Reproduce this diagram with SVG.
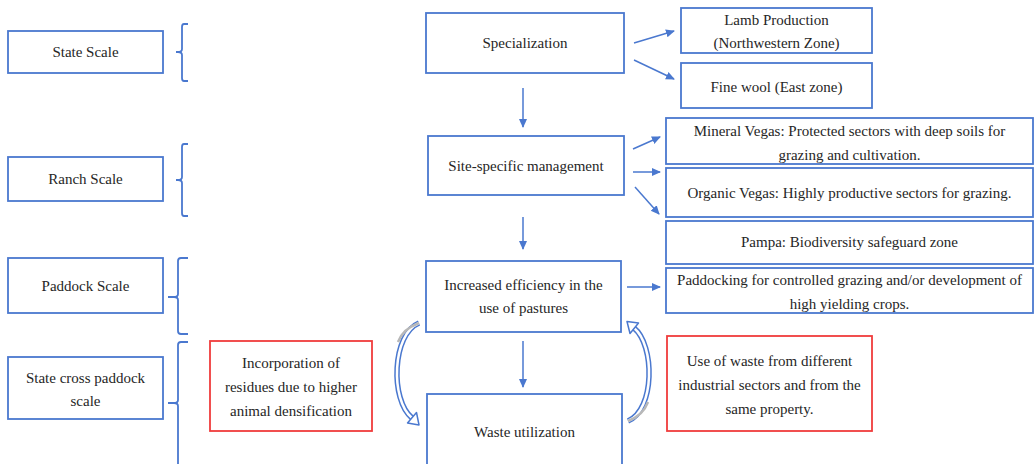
<svg xmlns="http://www.w3.org/2000/svg" width="1035" height="464" viewBox="0 0 1035 464">
<style>
.b{fill:#fff;stroke:#4a78cf;stroke-width:1.8}
.r{fill:#fff;stroke:#f03c3c;stroke-width:1.8}
.t{font-family:"Liberation Serif","Times New Roman",serif;font-size:15px;fill:#262626;text-anchor:middle}
.br{fill:none;stroke:#4a78cf;stroke-width:1.8;stroke-linejoin:round}
.ar{stroke:#4a78cf;stroke-width:1.5;fill:none}
</style>
<defs>
<marker id="ah" markerWidth="10" markerHeight="10" refX="8" refY="5" orient="auto" markerUnits="userSpaceOnUse">
<path d="M0,1 L9,5 L0,9 Z" fill="#4a78cf"/>
</marker>
</defs>
<rect width="1035" height="464" fill="#fff"/>

<g id="state-scale"><rect class="b" x="8" y="31" width="155" height="42"/><text class="t" x="85.5" y="57">State Scale</text></g>
<g id="ranch-scale"><rect class="b" x="8" y="157" width="155" height="44"/><text class="t" x="85.5" y="184">Ranch Scale</text></g>
<g id="paddock-scale"><rect class="b" x="8" y="258" width="155" height="55"/><text class="t" x="85.5" y="291">Paddock Scale</text></g>
<g id="state-cross"><rect class="b" x="8" y="357" width="155" height="62"/><text class="t" x="85.5" y="383">State cross paddock</text><text class="t" x="85.5" y="406">scale</text></g>

<g id="braces">
<path class="br" d="M188,24 H184 Q182,24 182,27 V49 Q182,52 178,52 H176 M178,52 Q182,52 182,55 V78 Q182,81 184,81 H188"/>
<path class="br" d="M188,144 H184 Q182,144 182,147 V177 Q182,180 178,180 H176 M178,180 Q182,180 182,183 V213 Q182,216 184,216 H188"/>
<path class="br" d="M188,258 H181 Q178,258 178,261 V294 Q178,297 174,297 H168 M174,297 Q178,297 178,300 V331 Q178,334 181,334 H188"/>
<path class="br" d="M188,342 H181 Q178,342 178,345 V400 Q178,403 174,403 H168 M174,403 Q178,403 178,406 V464"/>
</g>

<g id="incorporation"><rect class="r" x="210" y="341" width="162" height="90"/><text class="t" x="291" y="368">Incorporation of</text><text class="t" x="291" y="392">residues due to higher</text><text class="t" x="291" y="416">animal densification</text></g>

<g id="specialization"><rect class="b" x="426" y="13" width="198" height="60"/><text class="t" x="525" y="48">Specialization</text></g>
<g id="site-specific"><rect class="b" x="428" y="136" width="196" height="59"/><text class="t" x="526" y="171">Site-specific management</text></g>
<g id="increased"><rect class="b" x="426" y="261" width="195" height="71"/><text class="t" x="523.5" y="290">Increased efficiency in the</text><text class="t" x="523.5" y="313">use of pastures</text></g>
<g id="waste"><rect class="b" x="427" y="394" width="195" height="75"/><text class="t" x="524.5" y="437">Waste utilization</text></g>

<g id="lamb"><rect class="b" x="681" y="8" width="191" height="45"/><text class="t" x="776.5" y="25">Lamb Production</text><text class="t" x="776.5" y="48">(Northwestern Zone)</text></g>
<g id="finewool"><rect class="b" x="681" y="63" width="191" height="45"/><text class="t" x="776.5" y="92">Fine wool (East zone)</text></g>
<g id="mineral"><rect class="b" x="666" y="118" width="367" height="46"/><text class="t" x="849.5" y="136">Mineral Vegas: Protected sectors with deep soils for</text><text class="t" x="849.5" y="160">grazing and cultivation.</text></g>
<g id="organic"><rect class="b" x="666" y="168" width="367" height="49"/><text class="t" x="849.5" y="198">Organic Vegas: Highly productive sectors for grazing.</text></g>
<g id="pampa"><rect class="b" x="666" y="221" width="367" height="43"/><text class="t" x="849.5" y="247">Pampa: Biodiversity safeguard zone</text></g>
<g id="paddocking"><rect class="b" x="666" y="268" width="367" height="45"/><text class="t" x="849.5" y="285">Paddocking for controlled grazing and/or development of</text><text class="t" x="849.5" y="309">high yielding crops.</text></g>
<g id="use-of-waste"><rect class="r" x="667" y="336" width="205" height="95"/><text class="t" x="769.5" y="366">Use of waste from different</text><text class="t" x="769.5" y="390">industrial sectors and from the</text><text class="t" x="769.5" y="414">same property.</text></g>

<g id="connectors">
<line class="ar" x1="523" y1="88" x2="523" y2="127" marker-end="url(#ah)"/>
<line class="ar" x1="523" y1="217" x2="523" y2="249" marker-end="url(#ah)"/>
<line class="ar" x1="523" y1="341" x2="523" y2="387" marker-end="url(#ah)"/>
<line class="ar" x1="634" y1="43" x2="674" y2="31" marker-end="url(#ah)"/>
<line class="ar" x1="634" y1="60" x2="674" y2="79" marker-end="url(#ah)"/>
<line class="ar" x1="633" y1="149" x2="660" y2="137" marker-end="url(#ah)"/>
<line class="ar" x1="633" y1="172" x2="660" y2="172" marker-end="url(#ah)"/>
<line class="ar" x1="635" y1="187" x2="659" y2="214" marker-end="url(#ah)"/>
<line class="ar" x1="627" y1="287" x2="660" y2="287" marker-end="url(#ah)"/>
<g id="curved-left">
<path d="M419,323 C392,334 390,400 412,418" fill="none" stroke="#4a78cf" stroke-width="5.5"/>
<path d="M419,323 C392,334 390,400 412,418" fill="none" stroke="#fff" stroke-width="2.5"/>
<path d="M419,323 C408,327 401,334 398,342" fill="none" stroke="#b8b8b8" stroke-width="2.5"/>
<polygon points="419,425 407.5,423 416.5,412.5" fill="#fff" stroke="#4a78cf" stroke-width="1.5" stroke-linejoin="round"/>
</g>
<g id="curved-right">
<path d="M628,421 C655,410 655,345 634,328" fill="none" stroke="#4a78cf" stroke-width="5.5"/>
<path d="M628,421 C655,410 655,345 634,328" fill="none" stroke="#fff" stroke-width="2.5"/>
<path d="M628,421 C639,417 645,410 648,402" fill="none" stroke="#b8b8b8" stroke-width="2.5"/>
<polygon points="627,321.5 638.5,323 630,333.5" fill="#fff" stroke="#4a78cf" stroke-width="1.5" stroke-linejoin="round"/>
</g>
</g>
</svg>
